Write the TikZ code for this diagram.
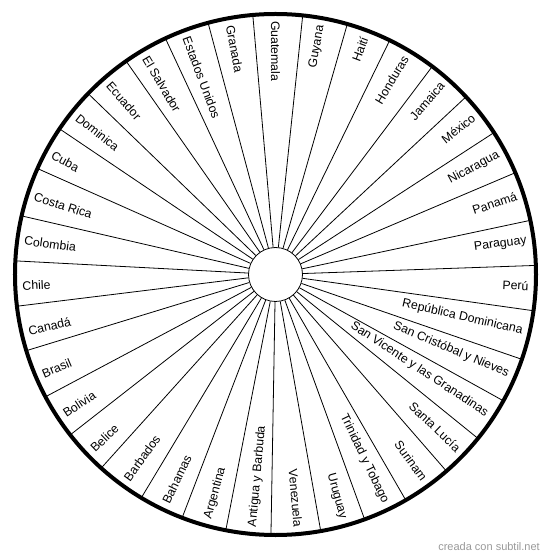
\documentclass[tikz,border=0pt]{standalone}
\usepackage{fontspec}
\setmainfont{Liberation Sans}
\begin{document}
\begin{tikzpicture}[x=1pt,y=1pt,
  lbl/.style={font=\fontsize{12.3}{14}\selectfont, inner sep=0pt},
  spoke/.style={line width=0.8pt, black},
  rim/.style={line width=4pt, black},
  credittext/.style={font=\fontsize{11}{13}\selectfont, text=black!40, inner sep=0pt}
]
\useasboundingbox (-275.5,-284.5) rectangle (274.5,274.5);
\node[circle, draw, minimum size=54pt, inner sep=0pt, line width=0.8pt] (hub) at (0,0) {};
\node[circle, minimum size=521pt, inner sep=0pt] (wheel) at (0,0) {};
\foreach \k in {0,...,34} {
  \pgfmathsetmacro\a{90+180/35+\k*360/35}
  \draw[spoke] (hub.\a) -- (wheel.\a);
}
\draw[rim] (wheel.center) circle (260.5);
\foreach \name [count=\j from 0] in {Antigua y Barbuda, Argentina, Bahamas, Barbados, Belice, Bolivia, Brasil, Canadá, Chile, Colombia, Costa Rica, Cuba, Dominica, Ecuador, El Salvador, Estados Unidos, Granada, Guatemala, Guyana, Haití, Honduras, Jamaica, México, Nicaragua, Panamá, Paraguay, Perú, República Dominicana, San Cristóbal y Nieves, San Vicente y las Granadinas, Santa Lucía, Surinam, Trinidad y Tobago, Uruguay, Venezuela} {
  \pgfmathsetmacro\a{90-(\j-17)*360/35}
  \ifnum\j<18
    \node[lbl, anchor=west, rotate=\a+180] (l\j) at (\a:253.5) {\name};
  \else
    \node[lbl, anchor=east, rotate=\a] (l\j) at (\a:253.5) {\name};
  \fi
}
\node[credittext, anchor=east] (credit) at (264.5,-272.5) {creada con subtil.net};
\end{tikzpicture}
\end{document}
